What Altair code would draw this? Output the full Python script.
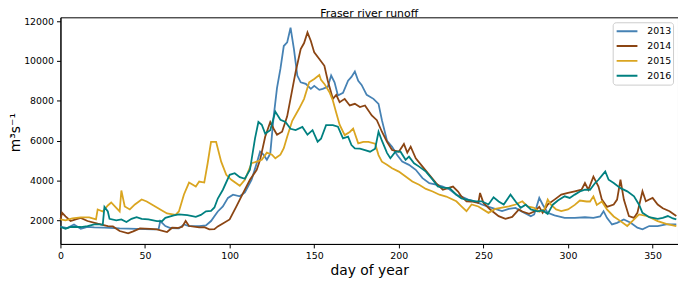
import altair as alt
import pandas as pd

chart_title = "Fraser river runoff"
years = ["2013", "2014", "2015", "2016"]
colors = ["#4682b4", "#8b4513", "#daa520", "#008080"]
x_ticks = [0, 50, 100, 150, 200, 250, 300, 350]
y_ticks = [2000, 4000, 6000, 8000, 10000, 12000]

runoff_2013 = [(0,1685),(4,1620),(8,1800),(12,1585),(16,1680),(20,1650),(26,1635),(35,1600),(45,1580),(55,1550),
 (58,1560),(59,1970),(62,1720),(65,1620),(70,1600),(73,1800),(76,1720),(82,1720),(86,1750),(89,1970),
 (91,2215),(93,2450),(96,2700),(99,3130),(102,3290),(106,3210),(109,3400),(111,3720),(113,4050),(116,4870),
 (118,5450),(120,5300),(122,5040),(124,5350),(126,7200),(128,8650),(130,9600),(132,10750),(134,10930),(136,11670),
 (138,10600),(140,9270),(142,8930),(145,8850),(148,8600),(150,8750),(153,8550),(155,8600),(158,8700),(160,9270),
 (162,8930),(164,8270),(167,8400),(170,9010),(172,9200),(174,9470),(176,9000),(178,8800),(181,8300),(185,8100),
 (188,7850),(190,7030),(193,6000),(196,5700),(199,5280),(202,4950),(206,4790),(210,4540),(214,4120),(218,3870),
 (222,3800),(226,3700),(230,3550),(234,3290),(237,3200),(241,3045),(245,2960),(249,2800),(255,2630),(261,2470),
 (265,2580),(269,2630),(272,2470),(276,2300),(278,2210),(280,2300),(283,3130),(285,2800),(288,2380),(292,2250),
 (298,2130),(304,2130),(310,2160),(315,2130),(319,2200),(321,2465),(323,2130),(326,1800),(329,1880),(333,2050),
 (337,1880),(341,1635),(344,1550),(348,1720),(353,1720),(358,1800),(364,1800)]

runoff_2014 = [(0,2050),(1,2380),(3,2200),(6,1970),(9,2050),(12,2130),(16,1970),(22,1835),(28,1720),(31,1700),
 (35,1470),(40,1350),(43,1450),(47,1600),(53,1580),(57,1550),(63,1420),(66,1635),(69,1620),(72,1680),
 (74,1970),(76,1720),(82,1650),(85,1660),(88,1550),(91,1560),(93,1700),(96,1850),(100,2050),(104,2710),
 (108,3380),(112,4040),(116,4540),(118,5040),(121,6200),(124,6940),(126,6600),(128,6300),(131,6450),(134,7220),
 (136,8110),(139,9450),(142,10600),(144,10900),(146,11430),(148,11000),(150,10430),(153,10100),(156,9760),(158,9010),
 (161,8100),(163,8300),(165,7930),(168,8100),(171,7770),(174,7850),(177,7690),(180,7770),(184,7270),(187,7030),
 (190,6450),(193,5950),(196,5530),(200,5450),(203,5840),(205,5400),(207,5700),(210,5120),(214,4700),(218,4290),
 (222,3870),(226,3540),(229,3620),(232,3700),(235,3450),(237,3200),(240,2960),(243,2950),(247,2880),(248,3380),
 (250,2880),(254,2550),(259,2215),(263,2080),(267,2180),(271,2550),(273,2450),(277,2330),(280,2450),(283,2680),
 (285,2380),(288,2800),(292,3045),(296,3295),(300,3380),(304,3460),(308,3540),(310,3875),(312,3540),(315,4200),
 (318,3700),(320,3045),(323,2680),(327,2800),(329,3045),(331,4040),(333,3045),(336,2215),(339,2130),(341,2380),
 (344,3460),(346,2960),(348,3050),(350,3130),(353,2800),(356,2610),(360,2460),(364,2220)]

runoff_2015 = [(0,2050),(3,2000),(7,2100),(12,2150),(17,2150),(21,2050),(22,2550),(25,2450),(28,2750),(30,2900),
 (33,2630),(35,2450),(36,3500),(38,2700),(41,2550),(44,2800),(48,3050),(51,2950),(55,2750),(59,2550),
 (63,2350),(68,2280),(70,2450),(73,3300),(76,3900),(78,3800),(80,3700),(82,3950),(85,3900),(87,4870),
 (89,5945),(92,5945),(95,4950),(98,4290),(101,4040),(106,3740),(109,4040),(113,4870),(116,4950),(119,5040),
 (122,5400),(125,5300),(127,5120),(130,5300),(132,5620),(134,6200),(137,7000),(141,7600),(144,8100),(147,8930),
 (150,9100),(153,9300),(154,9050),(156,8850),(159,8430),(161,8020),(163,7400),(165,6800),(168,6280),(171,6440),
 (173,6610),(176,5865),(179,5945),(182,5945),(186,5850),(188,5280),(190,4950),(193,4790),(196,4620),(200,4450),
 (204,4200),(208,3950),(212,3790),(216,3580),(220,3450),(224,3290),(228,3200),(234,2960),(237,2710),(240,2465),
 (243,2800),(247,2700),(253,2380),(257,2580),(265,2710),(269,2800),(273,2960),(276,2700),(280,2630),(283,2440),
 (286,2550),(288,3045),(290,2780),(293,2550),(296,2470),(300,2550),(304,2780),(307,3000),(311,2950),(313,2950),
 (315,3210),(317,2780),(320,2950),(323,2550),(327,2200),(331,1965),(335,1720),(338,1965),(342,2300),(347,2210),
 (353,1965),(358,1830),(364,1720)]

runoff_2016 = [(0,1670),(3,1585),(6,1680),(12,1670),(16,1720),(20,1800),(23,1800),(25,1780),(26,2680),(28,2450),
 (29,2080),(33,2000),(36,2050),(39,1920),(42,2080),(45,2165),(48,2080),(52,2050),(57,1970),(60,1960),
 (62,2130),(67,2250),(70,2300),(75,2270),(80,2180),(83,2280),(86,2460),(89,2480),(91,2650),(93,3100),
 (96,3540),(100,4290),(103,4370),(106,4170),(109,4090),(112,4540),(115,6120),(117,6940),(119,6800),(121,6360),
 (124,6530),(127,7460),(130,7050),(133,6940),(136,6600),(139,6530),(143,6690),(146,6300),(149,6530),(152,5950),
 (154,6100),(157,6780),(161,6780),(164,6700),(167,6120),(170,6200),(172,5780),(174,5620),(177,5600),(180,5530),
 (183,5450),(186,5600),(188,6450),(190,6000),(193,5390),(195,5120),(198,5450),(201,5450),(204,5040),(206,5200),
 (209,4870),(212,4700),(216,4450),(220,4040),(223,3710),(226,3650),(230,3620),(234,3290),(237,3100),(240,3045),
 (245,2960),(249,2960),(253,2800),(256,3160),(259,2950),(262,2800),(266,3295),(269,2950),(272,2630),(275,2790),
 (278,2550),(282,2460),(285,2500),(288,2330),(291,2790),(294,3000),(298,3210),(301,3130),(304,3295),(307,3450),
 (310,3540),(313,3540),(316,3875),(318,4040),(320,4250),(322,4460),(324,4040),(327,3875),(331,3620),(335,3460),
 (339,3210),(342,2790),(344,2380),(348,2165),(353,2080),(356,2130),(359,2220),(362,2100),(364,2050)]

rows = []
for yr, series in zip(years, [runoff_2013, runoff_2014, runoff_2015, runoff_2016]):
    for d, v in series:
        rows.append({"day": d, "flow": v, "year": yr})
df = pd.DataFrame(rows)
title_df = pd.DataFrame({"label": [chart_title]})

FONT = "DejaVu Sans"

lines = alt.Chart(df).mark_line(strokeWidth=1.8).encode(
    x=alt.X("day:Q",
            scale=alt.Scale(domain=[0, 365], nice=False, zero=False),
            axis=alt.Axis(title="day of year", values=x_ticks, grid=False, format="d",
                          titleFontSize=14, titleFontWeight="normal", titleFont=FONT,
                          titleBaseline="alphabetic", titleY=31, titleColor="black",
                          labelFontSize=9.5, labelFont=FONT, labelColor="black",
                          tickSize=4, labelPadding=3, tickColor="black",
                          domainColor="black", labelFlush=False)),
    y=alt.Y("flow:Q",
            scale=alt.Scale(domain=[820, 12190], nice=False, zero=False),
            axis=alt.Axis(title="m³s⁻¹", values=y_ticks, grid=False, format="d",
                          titleFontSize=14, titleFontWeight="normal", titleFont=FONT,
                          titleBaseline="alphabetic", titleX=-41, titleY=116,
                          titleAlign="center", titleAngle=270, titleColor="black",
                          labelFontSize=9.5, labelFont=FONT, labelColor="black",
                          tickSize=4, labelPadding=3, tickColor="black",
                          domainColor="black", labelFlush=False)),
    color=alt.Color("year:N",
                    scale=alt.Scale(domain=years, range=colors),
                    legend=alt.Legend(title=None, orient="none", legendX=558, legendY=5,
                                      symbolType="stroke", symbolSize=441, symbolStrokeWidth=2,
                                      symbolOffset=1.5, clipHeight=15,
                                      labelFontSize=9.5, labelFont=FONT, labelColor="black",
                                      labelOffset=9, rowPadding=0, padding=1.5,
                                      strokeColor="#cccccc", fillColor="white",
                                      cornerRadius=3)),
)

title_text = alt.Chart(title_df).mark_text(
    font=FONT, fontSize=11, baseline="alphabetic", align="center", color="black"
).encode(text="label:N", x=alt.value(312), y=alt.value(-0.8))

chart = alt.layer(lines, title_text).properties(
    width=624, height=229,
    autosize=alt.AutoSizeParams(type="none"),
    padding={"left": 53, "top": 8, "right": 0, "bottom": 35},
).configure_view(stroke="black", strokeWidth=1)

chart.save("out.html", embed_options={"renderer": "svg", "actions": False})
